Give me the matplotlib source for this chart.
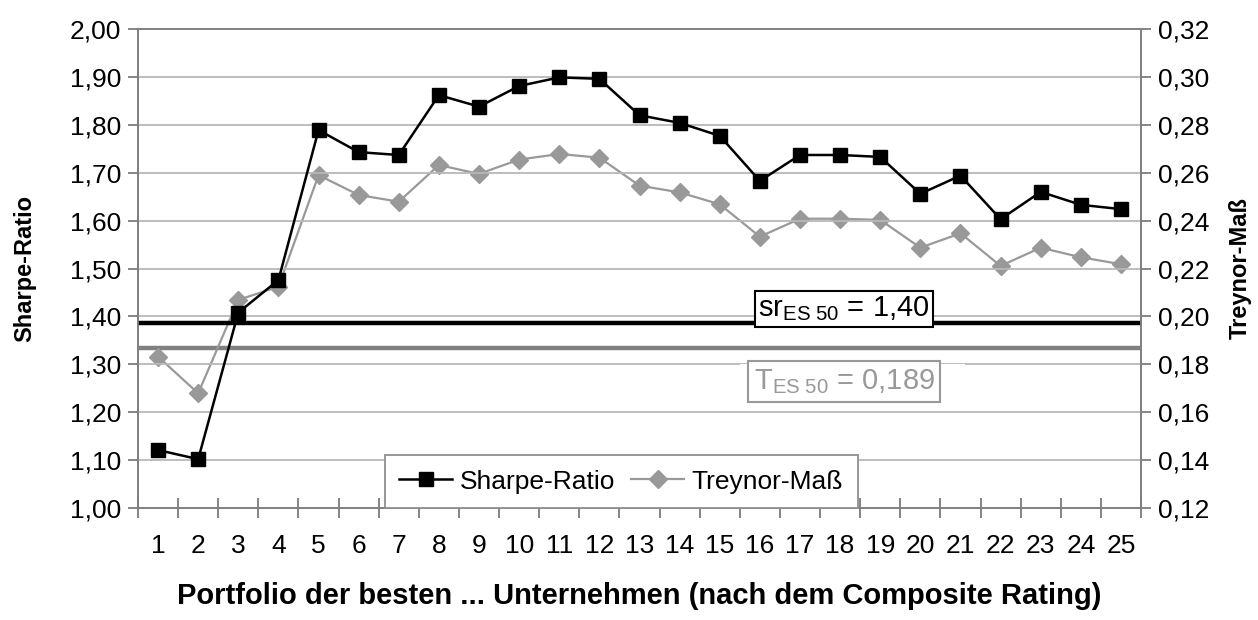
import numpy as np
import matplotlib.pyplot as plt
from matplotlib.patches import Rectangle
from matplotlib.ticker import FuncFormatter, MultipleLocator, FixedLocator

plt.rcParams['font.family'] = ['Liberation Sans', 'DejaVu Sans']
plt.rcParams['mathtext.fontset'] = 'custom'
plt.rcParams['mathtext.rm'] = 'Liberation Sans'
plt.rcParams['mathtext.it'] = 'Liberation Sans'

# Data
portfolios = np.arange(1, 26)
sharpe = [1.121, 1.102, 1.408, 1.476, 1.789, 1.743, 1.737, 1.862, 1.838, 1.881,
          1.899, 1.896, 1.820, 1.804, 1.777, 1.683, 1.737, 1.737, 1.733, 1.656,
          1.694, 1.603, 1.660, 1.633, 1.624]
treynor = [0.1832, 0.1679, 0.2069, 0.2124, 0.2590, 0.2507, 0.2479, 0.2632, 0.2595, 0.2655,
           0.2678, 0.2663, 0.2546, 0.2518, 0.2468, 0.2333, 0.2408, 0.2408, 0.2403, 0.2287,
           0.2347, 0.2211, 0.2287, 0.2247, 0.2218]
sr_es50 = 1.386        # drawn position of the benchmark line
sr_es50_label = '1,40'
t_es50 = 0.1867        # drawn position of the benchmark line
t_es50_label = '0,189'

grey = '#999999'
comma = FuncFormatter(lambda v, p: f'{v:.2f}'.replace('.', ','))

fig = plt.figure(figsize=(12.58, 6.2), dpi=100)
ax = fig.add_axes([0.1097, 0.1806, 0.7973, 0.7726])
ax2 = ax.twinx()

ax.set_xlim(0.5, 25.5)
ax.set_ylim(1.0, 2.0)
ax2.set_ylim(0.12, 0.32)

# grid on left axis
ax.yaxis.set_major_locator(MultipleLocator(0.1))
ax2.yaxis.set_major_locator(MultipleLocator(0.02))
ax.yaxis.set_major_formatter(comma)
ax2.yaxis.set_major_formatter(comma)
ax.grid(axis='y', color='#b8b8b8', linewidth=1.3, zorder=0)
ax.set_axisbelow(True)

# categorical x axis: labels at centres, ticks at boundaries
ax.xaxis.set_major_locator(FixedLocator(portfolios))
ax.set_xticklabels([str(p) for p in portfolios])
ax.xaxis.set_minor_locator(FixedLocator(np.arange(0.5, 26, 1)))
ax.tick_params(axis='x', which='major', length=0, pad=19, labelsize=19)
ax.tick_params(axis='x', which='minor', direction='inout', length=14, width=1.2, color='#707070')
ax.tick_params(axis='y', direction='out', length=7, width=1.2, color='#707070', labelsize=19, pad=5)
ax2.tick_params(axis='y', direction='out', length=7, width=1.2, color='#707070', labelsize=19, pad=5)

for a in (ax, ax2):
    for s in a.spines.values():
        s.set_color('#808080')
        s.set_linewidth(1.3)

# benchmark lines
ax.axhline(sr_es50, color='black', linewidth=3.2, zorder=2)
ax2.axhline(t_es50, color='#808080', linewidth=3.2, zorder=2)

# series
l1, = ax.plot(portfolios, sharpe, color='black', linewidth=1.8, marker='s',
              markersize=10, zorder=4, label='Sharpe-Ratio')
l2, = ax2.plot(portfolios, treynor, color=grey, linewidth=1.6, marker='D',
               markersize=9, markeredgecolor=grey, zorder=3, label='Treynor-Maß')
ax.set_zorder(ax2.get_zorder() + 1)
ax.patch.set_visible(False)

# benchmark labels
ax.text(0.704, sr_es50, r'$\mathrm{sr}_{\mathrm{ES\ 50}}$ = ' + sr_es50_label,
        transform=ax.get_yaxis_transform(), ha='center', va='bottom', fontsize=21,
        bbox=dict(boxstyle='square,pad=0.12', facecolor='white', edgecolor='black', linewidth=1.5),
        zorder=5)
ax.add_patch(Rectangle((0.60, 0.26), 0.225, 0.04, transform=ax.transAxes,
                       facecolor='white', edgecolor='none', zorder=1))
ax.text(0.704, 0.264, r'$\mathrm{T}_{\mathrm{ES\ 50}}$ = ' + t_es50_label,
        transform=ax.transAxes, ha='center', va='center', fontsize=21, color=grey,
        bbox=dict(boxstyle='square,pad=0.2', facecolor='white', edgecolor=grey, linewidth=1.5),
        zorder=5)

leg = ax.legend(handles=[l1, l2], loc='lower left', bbox_to_anchor=(0.246, 0.0), ncol=2,
                fontsize=19, frameon=True, fancybox=False, framealpha=1, edgecolor='#909090',
                handlelength=2.0, handletextpad=0.3, columnspacing=0.6, borderpad=0.55,
                borderaxespad=0)
leg.get_frame().set_linewidth(1.3)

ax.set_ylabel('Sharpe-Ratio', fontsize=17, fontweight='bold', labelpad=24)
ax2.set_ylabel('Treynor-Maß', fontsize=17, fontweight='bold', labelpad=14)
ax.set_xlabel('Portfolio der besten ... Unternehmen (nach dem Composite Rating)',
              fontsize=21, fontweight='bold', labelpad=17)

fig.savefig('out.png', dpi=100)
